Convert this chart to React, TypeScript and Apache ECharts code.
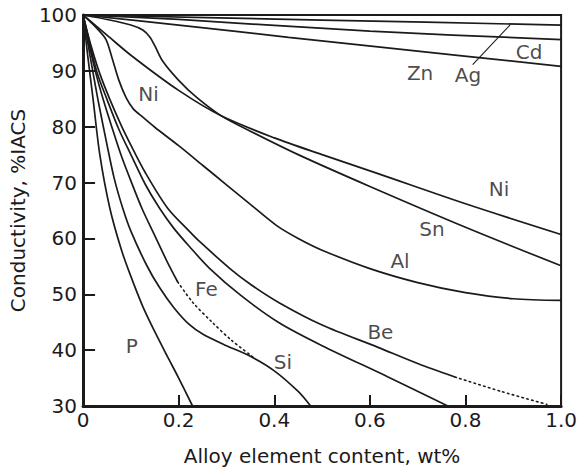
import React, { useEffect, useRef } from 'react';
import * as echarts from 'echarts';

const INK = '#1c1a1b';
const FONT = '"DejaVu Sans", "Liberation Sans", sans-serif';

// axis tick values
const xTickValues = [0, 0.2, 0.4, 0.6, 0.8, 1.0];
const yTickValues = [30, 40, 50, 60, 70, 80, 90, 100];

// curves: [wt%, %IACS]
const agCurve = [[0, 100], [0.5, 99.1], [1.0, 98.2]];
const cdCurve = [[0, 100], [0.2, 99.2], [0.6, 97.1], [1.0, 95.6]];
const znCurve = [[0, 100], [0.2, 98.2], [0.43, 96.0], [0.617, 94.3], [1.0, 90.8]];
const snCurve = [
  [0, 100], [0.05, 99.2], [0.1, 98.2], [0.125, 97.3], [0.14, 96.0], [0.15, 94.5],
  [0.166, 91.8], [0.2, 88.3], [0.237, 85.3], [0.29, 81.9], [0.35, 79.2], [0.45, 75.0],
  [0.6, 69.3], [0.8, 62.0], [1.0, 55.1],
];
const niCurve = [
  [0, 100], [0.05, 96.4], [0.1, 92.8], [0.2, 86.5], [0.29, 81.9], [0.4, 78.0],
  [0.5, 75.0], [0.617, 71.6], [0.8, 66.2], [1.0, 60.7],
];
const alCurve = [
  [0, 100], [0.03, 97.5], [0.048, 95.6], [0.06, 92.5], [0.075, 88.3], [0.09, 85.2],
  [0.105, 83.2], [0.125, 81.7], [0.15, 79.9], [0.2, 76.6], [0.25, 73.1], [0.3, 69.6],
  [0.35, 66.1], [0.405, 62.3], [0.45, 60.0], [0.5, 57.9], [0.6, 54.6], [0.7, 52.1],
  [0.8, 50.3], [0.9, 49.2], [1.0, 48.9],
];
const beCurve = [
  [0, 100], [0.015, 95.0], [0.035, 89.5], [0.056, 84.9], [0.08, 80.2], [0.1, 76.7],
  [0.13, 71.8], [0.177, 65.4], [0.222, 61.3], [0.243, 59.5], [0.306, 54.7], [0.35, 51.8],
  [0.41, 48.5], [0.5, 44.5], [0.617, 40.5], [0.7, 37.6], [0.778, 35.2],
];
const beDotted = [[0.778, 35.2], [0.875, 32.6], [0.97, 30.3]];
const otherCurve = [
  [0, 100], [0.015, 94.5], [0.03, 89.5], [0.05, 84.9], [0.075, 79.5], [0.1, 75.0],
  [0.13, 69.7], [0.16, 65.4], [0.19, 61.8], [0.222, 58.6], [0.264, 54.7], [0.33, 49.8],
  [0.41, 44.9], [0.5, 40.8], [0.638, 35.2], [0.763, 30.0],
];
const feCurve = [
  [0, 100], [0.012, 95.0], [0.027, 89.5], [0.042, 84.9], [0.06, 80.0], [0.08, 74.8],
  [0.1, 70.3], [0.123, 65.4], [0.15, 60.5], [0.175, 56.0], [0.198, 52.2],
];
const feDotted = [[0.198, 52.2], [0.23, 48.5], [0.27, 45.0], [0.31, 41.8], [0.355, 38.8]];
const siCurve = [
  [0, 100], [0.015, 92.5], [0.031, 84.9], [0.05, 76.8], [0.065, 70.8], [0.083, 65.4],
  [0.1, 61.3], [0.133, 55.2], [0.16, 51.2], [0.19, 47.6], [0.222, 44.6], [0.25, 42.9],
  [0.3, 40.8], [0.35, 38.9], [0.4, 36.3], [0.45, 32.6], [0.476, 30.0],
];
const pCurve = [
  [0, 100], [0.01, 92.5], [0.021, 84.9], [0.035, 75.0], [0.056, 65.4], [0.08, 58.0],
  [0.1, 53.2], [0.125, 47.8], [0.15, 43.3], [0.175, 39.1], [0.2, 35.0], [0.229, 30.0],
];
const agLeader = [[0.815, 91.1], [0.894, 98.3]];

const labelNames = ['Cd', 'Zn', 'Ag', 'Ni', 'Ni', 'Sn', 'Al', 'Fe', 'Be', 'Si', 'P'];
const labelX = [0.933, 0.705, 0.805, 0.137, 0.87, 0.730, 0.663, 0.258, 0.622, 0.418, 0.102];
const labelY = [93.3, 89.6, 89.3, 85.8, 68.9, 61.7, 56.0, 50.9, 43.2, 37.8, 40.8];

export default function App() {
  const ref = useRef<HTMLDivElement>(null);

  useEffect(() => {
    const chart = echarts.init(ref.current!, null, { renderer: 'svg' });
    const line = (data: number[][], dotted = false, width = 1.7) => ({
      type: 'line',
      data,
      smooth: 0.3,
      symbol: 'none',
      silent: true,
      lineStyle: dotted
        ? { color: INK, width: 1.6, type: [1.5, 3.5], cap: 'round' }
        : { color: INK, width },
      z: 3,
    });

    chart.setOption({
      animation: false,
      backgroundColor: '#ffffff',
      grid: {
        left: 83, right: 16, top: 15, bottom: 62,
        show: true, borderColor: INK, borderWidth: 2, backgroundColor: 'transparent',
      },
      xAxis: {
        type: 'value',
        min: xTickValues[0],
        max: xTickValues[xTickValues.length - 1],
        interval: 0.2,
        name: 'Alloy element content, wt%',
        nameLocation: 'middle',
        nameGap: 40,
        nameTextStyle: { fontFamily: FONT, fontSize: 20, color: INK },
        axisLine: { show: true, lineStyle: { color: INK, width: 3 } },
        axisTick: { show: true, inside: true, length: 11, lineStyle: { color: INK, width: 2 } },
        axisLabel: {
          fontFamily: FONT, fontSize: 20, color: INK, margin: 4,
          showMinLabel: true, showMaxLabel: true,
          formatter: (v: number) => (v === 0 ? '0' : v.toFixed(1)),
        },
        splitLine: { show: false },
      },
      yAxis: {
        type: 'value',
        min: yTickValues[0],
        max: yTickValues[yTickValues.length - 1],
        interval: 10,
        name: 'Conductivity, %IACS',
        nameLocation: 'middle',
        nameGap: 42,
        nameTextStyle: { fontFamily: FONT, fontSize: 20, color: INK },
        axisLine: { show: true, lineStyle: { color: INK, width: 3 } },
        axisTick: { show: true, inside: true, length: 12, lineStyle: { color: INK, width: 2 } },
        axisLabel: {
          fontFamily: FONT, fontSize: 20, color: INK, margin: 6,
          showMinLabel: true, showMaxLabel: true,
        },
        splitLine: { show: false },
      },
      series: [
        line(agCurve),
        line(cdCurve),
        line(znCurve),
        line(snCurve),
        line(niCurve),
        line(alCurve),
        line(beCurve),
        line(beDotted, true),
        line(otherCurve),
        line(feCurve),
        line(feDotted, true),
        line(siCurve),
        line(pCurve),
        { ...line(agLeader, false, 1.1), smooth: false },
        {
          type: 'scatter',
          symbolSize: 0,
          silent: true,
          data: labelNames.map((n, i) => ({ name: n, value: [labelX[i], labelY[i]] })),
          label: {
            show: true,
            position: 'inside',
            formatter: '{b}',
            fontFamily: FONT,
            fontSize: 20,
            color: INK,
          },
          z: 5,
        },
      ],
    });

    return () => chart.dispose();
  }, []);

  return (
    <div
      ref={ref}
      style={{ position: 'fixed', left: 0, top: 0, width: 580, height: 471, background: '#fff' }}
    />
  );
}
